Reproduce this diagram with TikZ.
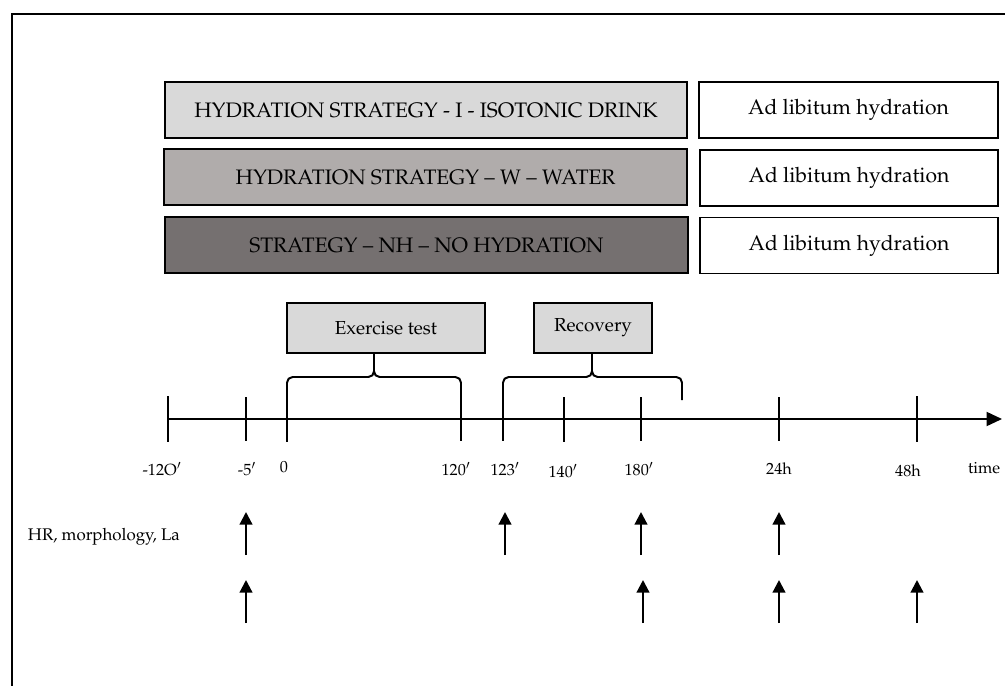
\documentclass[tikz,border=0pt]{standalone}
\usepackage[T1]{fontenc}
\usepackage{mathpazo}
\usetikzlibrary{arrows.meta}

\definecolor{isogray}{RGB}{217,217,217}
\definecolor{watgray}{RGB}{176,172,171}
\definecolor{nhgray}{RGB}{117,112,112}

\tikzset{
  strategy/.style={draw, line width=1.4pt, minimum width=13.05cm, minimum height=1.4cm, font=\fontsize{14.9}{16}\selectfont},
  adlib/.style={draw, line width=1.4pt, fill=white, minimum width=7.47cm, minimum height=1.4cm, font=\fontsize{15}{16}\selectfont},
  phase/.style={draw, line width=1.4pt, fill=isogray, minimum height=1.25cm, font=\fontsize{13.4}{15}\selectfont},
  tick/.style={line width=2pt},
  ticklab/.style={font=\fontsize{11.5}{13}\selectfont},
  bracket/.style={line width=1.4pt, rounded corners=4pt},
  marker/.style={line width=1.6pt, -{Triangle[width=9pt,length=9pt]}},
}

\begin{document}
\begin{tikzpicture}[x=0.025cm,y=-0.025cm]
\useasboundingbox (0,0) rectangle (1005,685);
\draw[line width=1.8pt] (12,700)--(12,14)--(1020,14);

% hydration strategies
\node[strategy, fill=isogray] (iso) at (426,110) {HYDRATION STRATEGY - I - ISOTONIC DRINK};
\node[strategy, fill=watgray] (water) at (425.5,177) {HYDRATION STRATEGY -- W -- WATER};
\node[strategy, fill=nhgray] (nohyd) at (426.5,245) {STRATEGY -- NH -- NO HYDRATION};

\node[adlib] (adiso) at (848.5,110) {Ad libitum hydration};
\node[adlib] (adwater) at (849,178) {Ad libitum hydration};
\node[adlib] (adnohyd) at (849,245.5) {Ad libitum hydration};

% phases
\node[phase, minimum width=4.95cm] (exercise) at (386,328) {Exercise test};
\node[phase, minimum width=2.95cm] (recovery) at (593,328) {Recovery};

% time axis
\coordinate (origin) at (168,419);
\coordinate (axisend) at (1002,419);
\draw[line width=1.3pt, -{Triangle[width=10pt,length=11pt]}] (origin)--(axisend);

\coordinate (tm120) at (168,419);
\coordinate (tm5) at (246,419);
\coordinate (t0) at (287,419);
\coordinate (t120) at (461,419);
\coordinate (t123) at (503,419);
\coordinate (t140) at (564,419);
\coordinate (t180) at (641,419);
\coordinate (t24h) at (779,419);
\coordinate (t48h) at (917,419);

\draw[tick] (tm120) ++(0,-23)--++(0,46);
\draw[tick] (tm5) ++(0,-22)--++(0,44);
\draw[tick] (t0) ++(0,-22)--++(0,45);
\draw[tick] (t120) ++(0,-22)--++(0,44);
\draw[tick] (t123) ++(0,-22)--++(0,44);
\draw[tick] (t140) ++(0,-22)--++(0,45);
\draw[tick] (t180) ++(0,-22)--++(0,44);
\draw[tick] (t24h) ++(0,-22)--++(0,44);
\draw[tick] (t48h) ++(0,-23)--++(0,46);

\node[ticklab] (lm120) at (162,469) {-12O$'$};
\node[ticklab] (lm5) at (247,469) {-5$'$};
\node[ticklab] (l0) at (284,467) {0};
\node[ticklab] (l120) at (456,469) {120$'$};
\node[ticklab] (l123) at (505,469) {123$'$};
\node[ticklab] (l140) at (563,471) {140$'$};
\node[ticklab] (l180) at (639,469) {180$'$};
\node[ticklab] (l24h) at (779,469) {24h};
\node[ticklab] (l48h) at (908,471) {48h};
\node[ticklab, anchor=east] (ltime) at (1005,468) {time};

% braces
\coordinate (expeak) at (374,377);
\coordinate (recpeak) at (592,377);
\draw[bracket] (287,398) |- (expeak)--(expeak |- exercise.south);
\draw[bracket] (461,398) |- (expeak)--(expeak |- exercise.south);
\draw[bracket] (503,398) |- (recpeak)--(recpeak |- recovery.south);
\draw[bracket] (682,400) |- (recpeak)--(recpeak |- recovery.south);

% measurements
\node[ticklab, font=\fontsize{12}{14}\selectfont, anchor=west] (hr) at (23,537) {HR, morphology, La};

\coordinate (a1) at (246,555); \coordinate (b1) at (246,512);
\coordinate (a2) at (505,555); \coordinate (b2) at (505,512);
\coordinate (a3) at (641,555); \coordinate (b3) at (641,512);
\coordinate (a4) at (779,555); \coordinate (b4) at (779,512);
\draw[marker] (a1)--(b1);
\draw[marker] (a2)--(b2);
\draw[marker] (a3)--(b3);
\draw[marker] (a4)--(b4);

\coordinate (c1) at (246,623); \coordinate (d1) at (246,580);
\coordinate (c2) at (643,623); \coordinate (d2) at (643,580);
\coordinate (c3) at (779,623); \coordinate (d3) at (779,580);
\coordinate (c4) at (917,623); \coordinate (d4) at (917,580);
\draw[marker] (c1)--(d1);
\draw[marker] (c2)--(d2);
\draw[marker] (c3)--(d3);
\draw[marker] (c4)--(d4);

\end{tikzpicture}
\end{document}
